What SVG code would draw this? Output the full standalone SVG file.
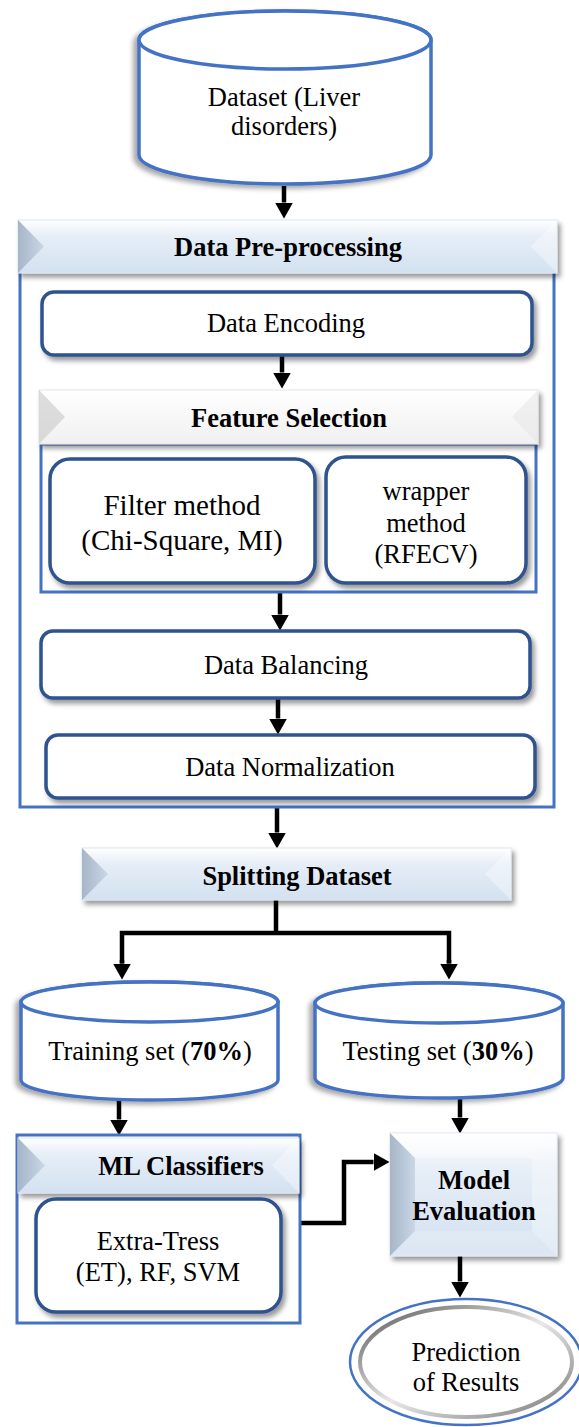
<svg xmlns="http://www.w3.org/2000/svg" width="579" height="1427" viewBox="0 0 579 1427">
<style>
text{font-family:"Liberation Serif","Times New Roman",serif;font-size:26.5px;fill:#000;text-anchor:middle}
.b{font-weight:bold}
.cyl{fill:#fff;stroke:#4472c4;stroke-width:3.5}
.rbox{fill:#fff;stroke:#2f528f;stroke-width:3.5}
.frame{fill:none;stroke:#4472c4;stroke-width:3}
.conn{fill:none;stroke:#000;stroke-width:4.5}
.bevL{fill:url(#gBevL)}
.bevR{fill:#ffffff;opacity:.35}
.bevT{fill:#ffffff;opacity:.4}
.bevB{fill:#ffffff;opacity:.2}
</style>
<defs>
<linearGradient id="gBlue" x1="0" y1="0" x2="0" y2="1">
<stop offset="0" stop-color="#ffffff"/>
<stop offset="0.3" stop-color="#e6eef7"/>
<stop offset="1" stop-color="#d3e1f0"/>
</linearGradient>
<linearGradient id="gBevL" x1="0" y1="0" x2="1" y2="0">
<stop offset="0" stop-color="#a6b6c8"/>
<stop offset="1" stop-color="#c9d7e6"/>
</linearGradient>
<linearGradient id="gWhite" x1="0" y1="0" x2="0" y2="1">
<stop offset="0" stop-color="#ffffff"/>
<stop offset="1" stop-color="#f0f0f0"/>
</linearGradient>
<linearGradient id="gRing" x1="0" y1="0" x2="1" y2="1">
<stop offset="0" stop-color="#555"/>
<stop offset="0.5" stop-color="#e8e8e8"/>
<stop offset="1" stop-color="#777"/>
</linearGradient>
<filter id="sh" x="-10%" y="-10%" width="125%" height="130%">
<feDropShadow dx="3" dy="4" stdDeviation="2.5" flood-color="#000" flood-opacity="0.4"/>
</filter>
<filter id="shc" x="-10%" y="-10%" width="125%" height="130%">
<feDropShadow dx="-4" dy="3" stdDeviation="2.5" flood-color="#000" flood-opacity="0.35"/>
</filter>
<marker id="ah" viewBox="0 0 16 18" refX="0" refY="9" markerWidth="16" markerHeight="18" markerUnits="userSpaceOnUse" orient="auto">
<path d="M0,0 L16,9 L0,18 Z" fill="#000"/>
</marker>
</defs>

<g id="connectors">
<line class="conn" x1="284" y1="186" x2="284" y2="202.5" marker-end="url(#ah)"/>
<line class="conn" x1="282" y1="355" x2="282" y2="372.5" marker-end="url(#ah)"/>
<line class="conn" x1="280" y1="592" x2="280" y2="614.5" marker-end="url(#ah)"/>
<line class="conn" x1="278" y1="698" x2="278" y2="718.5" marker-end="url(#ah)"/>
<line class="conn" x1="277" y1="807" x2="277" y2="832.5" marker-end="url(#ah)"/>
<polyline class="conn" points="276,900 276,933"/>
<polyline class="conn" points="122,963.5 122,933 449,933 449,963.5"/>
<line class="conn" x1="122" y1="960" x2="122" y2="963.5" marker-end="url(#ah)"/>
<line class="conn" x1="449" y1="960" x2="449" y2="963.5" marker-end="url(#ah)"/>
<line class="conn" x1="119" y1="1100" x2="119" y2="1119.5" marker-end="url(#ah)"/>
<line class="conn" x1="460" y1="1098" x2="460" y2="1117.5" marker-end="url(#ah)"/>
<polyline class="conn" points="300,1223 344,1223 344,1162 373.5,1162" marker-end="url(#ah)"/>
<line class="conn" x1="460" y1="1256" x2="460" y2="1281.5" marker-end="url(#ah)"/>
</g>

<g id="dataset">
<path class="cyl" filter="url(#shc)" d="M139,40 A146,29 0 0 1 431,40 L431,155 A146,29 0 0 1 139,155 Z"/>
<ellipse class="cyl" cx="285" cy="40" rx="146" ry="29"/>
<text x="284" y="106">Dataset (Liver</text>
<text x="284" y="135">disorders)</text>
</g>

<g id="preprocessing">
<rect class="frame" x="20" y="222" width="534" height="585"/>
<g filter="url(#sh)">
<rect x="18" y="220" width="539" height="53" fill="url(#gBlue)" stroke="#dbe5f0" stroke-width="1"/>
<polygon class="bevL" points="18,220 44,246.5 18,273"/>
<polygon class="bevR" points="557,220 531,246.5 557,273"/>
</g>
<text class="b" x="288" y="256">Data Pre-processing</text>
</g>

<g id="encoding">
<rect class="rbox" filter="url(#sh)" x="42" y="292" width="490" height="63" rx="12"/>
<text x="286" y="332">Data Encoding</text>
</g>

<g id="feature-selection">
<rect class="frame" x="41" y="444" width="495" height="148" stroke-width="2.5"/>
<g filter="url(#sh)">
<rect x="39" y="390" width="499" height="54" fill="url(#gWhite)" stroke="#e6e6e6" stroke-width="1"/>
<polygon points="39,390 65,417 39,444" fill="#c8c8c8" opacity=".6"/>
<polygon points="538,390 512,417 538,444" fill="#e8e8e8" opacity=".6"/>
</g>
<text class="b" x="289" y="427">Feature Selection</text>
</g>

<g id="filter-method">
<rect class="rbox" filter="url(#sh)" x="50" y="459" width="265" height="124" rx="20"/>
<text x="182" y="515" style="font-size:29px">Filter method</text>
<text x="182" y="550" style="font-size:29px">(Chi-Square, MI)</text>
</g>

<g id="wrapper-method">
<rect class="rbox" filter="url(#sh)" x="326" y="457" width="200" height="126" rx="20"/>
<text x="426" y="500">wrapper</text>
<text x="426" y="532">method</text>
<text x="426" y="563">(RFECV)</text>
</g>

<g id="balancing">
<rect class="rbox" filter="url(#sh)" x="41" y="631" width="489" height="67" rx="12"/>
<text x="286" y="674">Data Balancing</text>
</g>

<g id="normalization">
<rect class="rbox" filter="url(#sh)" x="46" y="735" width="489" height="63" rx="12"/>
<text x="290" y="776">Data Normalization</text>
</g>

<g id="splitting">
<g filter="url(#sh)">
<rect x="82" y="848" width="429" height="52" fill="url(#gBlue)" stroke="#dbe5f0" stroke-width="1"/>
<polygon class="bevL" points="82,848 108,874 82,900"/>
<polygon class="bevR" points="511,848 485,874 511,900"/>
</g>
<text class="b" x="297" y="885">Splitting Dataset</text>
</g>

<g id="training">
<path class="cyl" filter="url(#shc)" d="M21,1002 A128.5,20 0 0 1 278,1002 L278,1080 A128.5,20 0 0 1 21,1080 Z"/>
<ellipse class="cyl" cx="149.5" cy="1002" rx="128.5" ry="20"/>
<text x="150" y="1060">Training set (<tspan class="b">70%</tspan>)</text>
</g>

<g id="testing">
<path class="cyl" filter="url(#shc)" d="M315,1003 A124,20 0 0 1 563,1003 L563,1078 A124,20 0 0 1 315,1078 Z"/>
<ellipse class="cyl" cx="439" cy="1003" rx="124" ry="20"/>
<text x="438" y="1060">Testing set (<tspan class="b">30%</tspan>)</text>
</g>

<g id="ml-classifiers">
<rect class="frame" x="17" y="1135" width="283" height="188"/>
<g filter="url(#sh)">
<rect x="18" y="1138" width="281" height="55" fill="url(#gBlue)" stroke="#dbe5f0" stroke-width="1"/>
<polygon class="bevL" points="18,1138 45,1165.5 18,1193"/>
<polygon class="bevR" points="299,1138 272,1165.5 299,1193"/>
</g>
<text class="b" x="181" y="1175">ML Classifiers</text>
</g>

<g id="extra-trees">
<rect class="rbox" filter="url(#sh)" x="36" y="1199" width="245" height="113" rx="20"/>
<text x="158" y="1250">Extra-Tress</text>
<text x="158" y="1281">(ET), RF, SVM</text>
</g>

<g id="model-evaluation">
<g filter="url(#sh)">
<rect x="390" y="1133" width="167" height="123" fill="url(#gBlue)" stroke="#dbe5f0" stroke-width="1"/>
<polygon class="bevL" points="390,1133 415,1158 415,1231 390,1256"/>
<polygon class="bevT" points="390,1133 557,1133 532,1158 415,1158"/>
<polygon class="bevR" points="557,1133 532,1158 532,1231 557,1256"/>
<polygon class="bevB" points="390,1256 415,1231 532,1231 557,1256"/>
</g>
<text class="b" x="474" y="1189">Model</text>
<text class="b" x="474" y="1220">Evaluation</text>
</g>

<g id="prediction">
<ellipse cx="466" cy="1362" rx="116" ry="63" fill="#fff" stroke="#4472c4" stroke-width="2.5"/>
<ellipse cx="466" cy="1362" rx="106" ry="55" fill="#fff" stroke="url(#gRing)" stroke-width="4"/>
<text x="466" y="1361">Prediction</text>
<text x="466" y="1391">of Results</text>
</g>
</svg>
